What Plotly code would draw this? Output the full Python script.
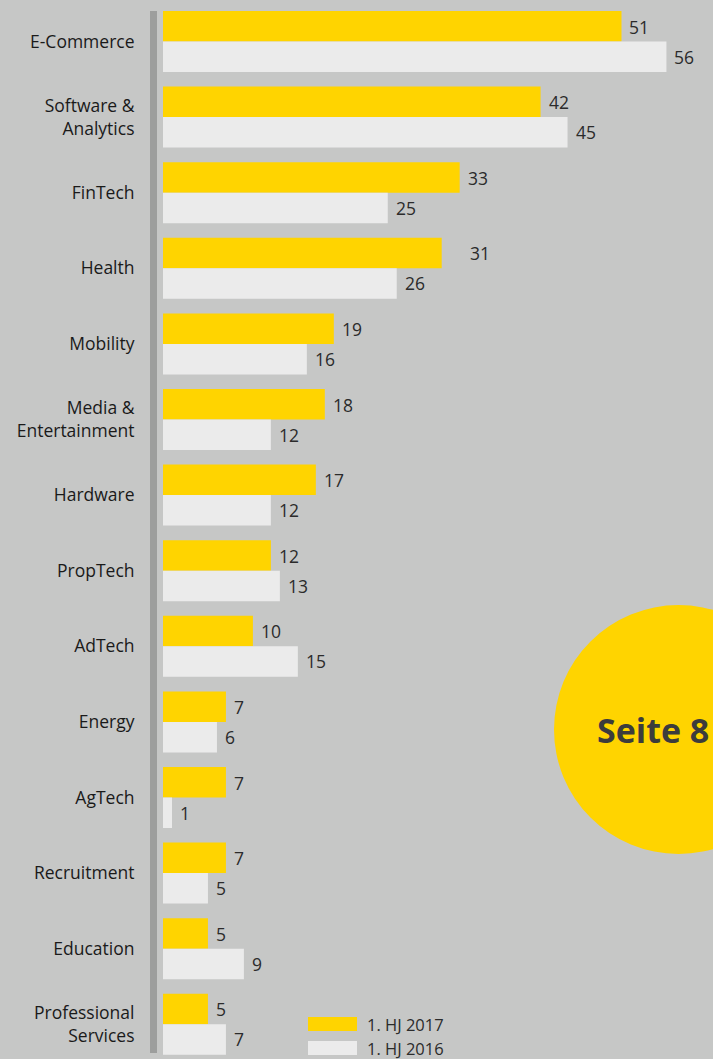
import plotly.graph_objects as go

categories = ["E-Commerce", "Software &<br>Analytics", "FinTech", "Health", "Mobility",
              "Media &<br>Entertainment", "Hardware", "PropTech", "AdTech", "Energy",
              "AgTech", "Recruitment", "Education", "Professional<br>Services"]
values_2017 = [51, 42, 33, 31, 19, 18, 17, 12, 10, 7, 7, 7, 5, 5]
values_2016 = [56, 45, 25, 26, 16, 12, 12, 13, 15, 6, 1, 5, 9, 7]
series_names = ["1. HJ 2017", "1. HJ 2016"]

W, H = 713, 1059
BG = "#c6c7c6"
YELLOW = "#ffd400"
LIGHT = "#ebebeb"
FONT = "Open Sans, DejaVu Sans, sans-serif"

L = 163
plot_w = W - L
px_per_unit = 8.99
pitch = 75.6
first_center = 41.5

fig = go.Figure()
fig.add_trace(go.Bar(y=categories, x=values_2017, orientation="h", name=series_names[0],
                     marker=dict(color=YELLOW, line=dict(width=0)), hoverinfo="skip"))
fig.add_trace(go.Bar(y=categories, x=values_2016, orientation="h", name=series_names[1],
                     marker=dict(color=LIGHT, line=dict(width=0)), hoverinfo="skip"))

annotations = []
extra = {(0, 3): 20}
for s, (vals, ysh) in enumerate([(values_2017, 15), (values_2016, -15)]):
    for i, (c, v) in enumerate(zip(categories, vals)):
        annotations.append(dict(x=v, y=c, xref="x", yref="y", text=str(v), showarrow=False,
                                xanchor="left", yanchor="middle", xshift=6 + extra.get((s, i), 0),
                                yshift=ysh, font=dict(family=FONT, size=17.5, color="#2b2b2b")))

def px_x(p):
    return (p - L) / plot_w

def px_y(p):
    return 1 - p / H

shapes = [
    dict(type="rect", xref="paper", yref="paper", x0=px_x(150), x1=px_x(157),
         y0=px_y(1053), y1=px_y(11), fillcolor="#9d9e9d", line=dict(width=0), layer="above"),
    dict(type="circle", xref="paper", yref="paper", x0=px_x(554), x1=px_x(803),
         y0=px_y(854), y1=px_y(605), fillcolor=YELLOW, line=dict(width=0), layer="below"),
    dict(type="rect", xref="paper", yref="paper", x0=px_x(308), x1=px_x(357),
         y0=px_y(1031), y1=px_y(1017), fillcolor=YELLOW, line=dict(width=0), layer="above"),
    dict(type="rect", xref="paper", yref="paper", x0=px_x(308), x1=px_x(357),
         y0=px_y(1055), y1=px_y(1041), fillcolor=LIGHT, line=dict(width=0), layer="above"),
]

annotations.append(dict(x=px_x(595), y=px_y(730), xref="paper", yref="paper", text="<b>Seite 8</b>",
                        showarrow=False, xanchor="left", yanchor="middle",
                        font=dict(family=FONT, size=34, color="#3c3c3c")))
for name, yc in zip(series_names, [1024, 1048]):
    annotations.append(dict(x=px_x(365), y=px_y(yc), xref="paper", yref="paper", text=name,
                            showarrow=False, xanchor="left", yanchor="middle",
                            font=dict(family=FONT, size=16.5, color="#2b2b2b")))

y_top = -first_center / pitch
y_bot = (H - first_center) / pitch

fig.update_layout(
    width=W, height=H,
    margin=dict(l=L, r=0, t=0, b=0),
    paper_bgcolor=BG, plot_bgcolor=BG,
    barmode="group", bargap=1 - 61 / pitch, bargroupgap=0,
    showlegend=False,
    xaxis=dict(range=[0, plot_w / px_per_unit], visible=False, fixedrange=True),
    yaxis=dict(type="category", range=[y_bot, y_top], showgrid=False, zeroline=False,
               showline=False, ticks="outside", ticklen=24, tickcolor="rgba(0,0,0,0)",
               tickfont=dict(family=FONT, size=17.5, color="#1a1a1a")),
    shapes=shapes, annotations=annotations,
    font=dict(family=FONT),
)

fig.write_html("out.html", config={"displayModeBar": False},
               post_script="document.body.style.margin='0';document.body.style.overflow='hidden';")
